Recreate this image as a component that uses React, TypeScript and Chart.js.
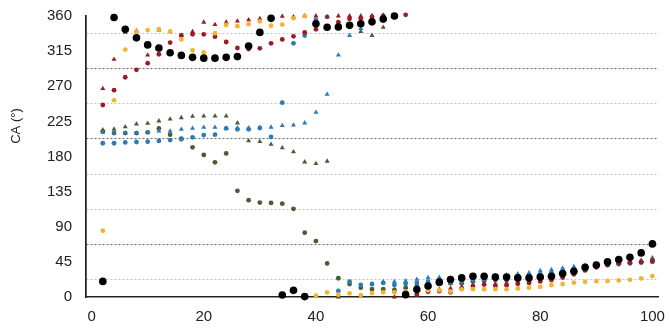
import React, { useEffect, useRef } from "react";
import { Chart, registerables } from "chart.js";

Chart.register(...registerables);

const xValues = [2, 4, 6, 8, 10, 12, 14, 16, 18, 20, 22, 24, 26, 28, 30, 32, 34, 36, 38, 40, 42, 44, 46, 48, 50, 52, 54, 56, 58, 60, 62, 64, 66, 68, 70, 72, 74, 76, 78, 80, 82, 84, 86, 88, 90, 92, 94, 96, 98, 100];

const blackCircles = [20, 358, 343, 332, 323, 319, 313, 309.5, 307, 306, 306, 307, 308, 321.5, 339, 357, 2.5, 8.5, 0.5, 350, 345.5, 346, 348, 350, 352.5, 356, 360, 3, 9.5, 14, 19, 22.5, 24.5, 26.5, 26.5, 25.5, 25.5, 24.5, 24.5, 25.5, 26.5, 30, 33, 38, 41, 45, 48, 51, 56.5, 68];

const yellowCircles = [85, 252, 317, 340, 342, 343, 340, 330, 316, 313.5, 338, 348.5, 347, 349.5, 353, 347.5, 349, 357, 360, 1.7, 6, 3, 4.7, 2.5, 5, 6, 6, 7, 8, 8.5, 9, 7, 9.8, 10, 10, 10, 10, 11, 12, 13, 15.4, 16.5, 18.3, 19.4, 20.3, 20.5, 21.2, 22, 23.8, 26.8];

const redCircles = [246, 265, 281.5, 291, 299.5, 311, 326, 335, 336.5, 336.5, 333.5, 326.7, 319, 317.7, 318.6, 325, 330, 334, 339, 343, 346, 352, 356.5, 357, 358.7, 360, 360.5, 361.5, 3, 6.8, 7.7, 6, 11, 14, 16, 14, 15, 17, 18, 20, 21.8, 25, 29, 34, 38, 41, 43, 44, 45, 46];

const redTriangles = [267, 304.5, 339, 340.8, 310, 342, 340, 335, 340, 352, 349, 352, 353.5, 355, 356.5, 357, 359.6, 359, 360, 360, 359, 360, 360, 360, 360.5, 361, 0, 1, 4.7, 8, 10, 11, 13, 15, 17, 17, 18, 19, 20, 22, 24, 27, 31, 35, 39, 42, 44, 45, 46, 47];

const blueCircles = [197, 197, 198, 198.6, 199, 200, 201, 202, 204.6, 207.5, 208, 216, 214.8, 214.8, 216.5, 205, 249, 325, 335, 355, 359, 7.7, 19.6, 15.4, 16.6, 18, 15.4, 17, 18, 19.6, 20, 19, 20, 22, 22.5, 23, 23.5, 25, 27, 29, 31, 33, 35, 37, 39, 41, 42, 43, 44, 45];

const blueTriangles = [211, 210, 210, 210, 211, 212.5, 212.5, 214.8, 216, 217.4, 217.4, 216, 216.5, 216.5, 217, 217.5, 219.6, 220.3, 223, 236.6, 259.7, 310, 335, 344, 17, 19.6, 19.6, 20.5, 22.6, 24.7, 25, 24, 25, 26, 27, 27.5, 28, 29.5, 31, 33.7, 35, 37, 39, 40.5, 41.5, 43, 45, 46, 47, 48];

const greenCircles = [212, 210, 210, 210, 211, 216, 208, 203, 191.7, 182, 172.5, 184, 136, 124, 121, 120.5, 119.5, 113, 82.4, 71.7, 43, 24, 16.6, 12, 10, 10, 9, 12, 14, 16, 17, 17.5, 17.5, 20, 21, 22, 22, 23, 25, 27, 29, 32, 35, 38, 40, 42, 43, 44, 45, 47];

const greenTriangles = [214, 215, 218, 221.6, 222.5, 225.5, 228, 229.7, 231.5, 231.8, 231.8, 231.8, 223, 200, 199, 195.6, 191, 186, 173, 171, 174, 0, null, 340, 335, 345.5, 9, 12, 14, 15, 16, 17.5, 18, 20, 21, 22, 22, 23, 24, 26, 28, 31, 34, 37, 39, 41, 43, 44, 46, 50];

const X_MIN = -1;
const X_MAX = 101;
const xTickValues = [0, 20, 40, 60, 80, 100];
const yTickValues = [0, 22.5, 45, 67.5, 90, 112.5, 135, 157.5, 180, 202.5, 225, 247.5, 270, 292.5, 315, 337.5, 360];
const darkGridValues = [67.5, 202.5, 292.5];

const FONT = "'Liberation Sans', Arial, sans-serif";

function toPoints(ys: (number | null)[]) {
  const pts: { x: number; y: number }[] = [];
  ys.forEach((y, i) => {
    if (y !== null && y !== undefined) pts.push({ x: xValues[i], y });
  });
  return pts;
}

// Draws the y-axis title and re-strokes the y-axis line along the y scale's edge.
const axisDecorPlugin = {
  id: "axisDecor",
  afterDraw(chart: any) {
    const ctx = chart.ctx;
    const ys = chart.scales.y;
    ctx.save();
    ctx.strokeStyle = "#222";
    ctx.lineWidth = 1.5;
    ctx.beginPath();
    ctx.moveTo(ys.right - 0.25, ys.top - 0.75);
    ctx.lineTo(ys.right - 0.25, ys.bottom + 0.75);
    ctx.stroke();
    ctx.restore();

    ctx.save();
    ctx.translate(16, 126);
    ctx.rotate(-Math.PI / 2);
    ctx.font = `13px ${FONT}`;
    ctx.fillStyle = "#222";
    ctx.textAlign = "center";
    ctx.textBaseline = "middle";
    ctx.fillText("CA (°)", 0, 0);
    ctx.restore();
  },
};

export default function App() {
  const ref = useRef<HTMLCanvasElement | null>(null);
  useEffect(() => {
    if (!ref.current) return;
    const mk = (label: string, data: (number | null)[], color: string, style: string, r: number) => ({
      label,
      data: toPoints(data),
      backgroundColor: color,
      borderColor: color,
      borderWidth: 0,
      pointBorderWidth: 0,
      pointStyle: style,
      pointRadius: r,
      pointHoverRadius: r,
      showLine: false,
      clip: false as any,
    });
    const chart = new Chart(ref.current, {
      type: "scatter",
      data: {
        datasets: [
          mk("Black", blackCircles, "#000000", "circle", 3.8),
          mk("Yellow", yellowCircles, "#F2B531", "circle", 2.4),
          mk("Red circle", redCircles, "#9C1B22", "circle", 2.4),
          mk("Red triangle", redTriangles, "#9C1B22", "triangle", 2.9),
          mk("Blue circle", blueCircles, "#2B7BB9", "circle", 2.4),
          mk("Blue triangle", blueTriangles, "#2B7BB9", "triangle", 2.9),
          mk("Green circle", greenCircles, "#4A5B35", "circle", 2.4),
          mk("Green triangle", greenTriangles, "#4A5B35", "triangle", 2.9),
        ] as any,
      },
      options: {
        animation: false,
        responsive: false,
        layout: { padding: { top: 16, right: 12, left: 0, bottom: 0 } },
        plugins: { legend: { display: false }, tooltip: { enabled: false } },
        scales: {
          x: {
            type: "linear",
            min: X_MIN,
            max: X_MAX,
            afterBuildTicks: (s: any) => {
              s.ticks = xTickValues.map((value) => ({ value }));
            },
            afterFit: (s: any) => {
              s.height = 34;
              s.paddingLeft = 0;
              s.paddingRight = 0;
            },
            ticks: {
              font: { size: 15, family: FONT },
              color: "#222",
              padding: 11,
              autoSkip: false,
              maxRotation: 0,
            },
            grid: { display: true, drawTicks: false, color: "rgba(0,0,0,0)" },
            border: { display: true, color: "#222", width: 1.5 },
          },
          y: {
            type: "linear",
            min: 0,
            max: 360,
            afterBuildTicks: (s: any) => {
              s.ticks = yTickValues.map((value) => ({ value }));
            },
            afterFit: (s: any) => {
              s.width = 86;
              s.paddingTop = 0;
              s.paddingBottom = 0;
            },
            ticks: {
              font: { size: 15, family: FONT },
              color: "#222",
              padding: 14,
              autoSkip: false,
              callback: (v: any) => (Number(v) % 45 === 0 ? String(v) : ""),
            },
            grid: {
              display: true,
              drawOnChartArea: true,
              drawTicks: false,
              lineWidth: 1,
              color: (c: any) => {
                const v = c.tick ? c.tick.value : 0;
                if (v % 45 === 0) return "rgba(0,0,0,0)";
                return darkGridValues.includes(v) ? "#6a6a6a" : "#c4c4c4";
              },
            },
            border: {
              display: true,
              color: "#222",
              width: 1.5,
              dash: (c: any) => (c.tick ? [2, 2] : []),
            },
          },
        },
      } as any,
      plugins: [axisDecorPlugin],
    });
    return () => chart.destroy();
  }, []);
  return (
    <div style={{ position: "absolute", left: 0, top: 0, width: 670, height: 331, background: "#fff" }}>
      <canvas ref={ref} width={670} height={331} />
    </div>
  );
}
